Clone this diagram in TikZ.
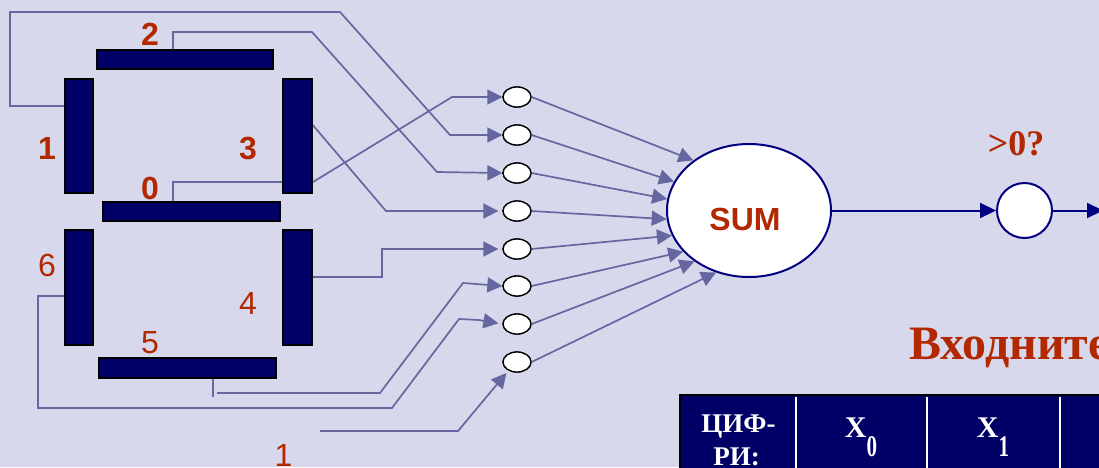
\documentclass[tikz,border=0pt]{standalone}
\usepackage{fontspec}
\setmainfont{Liberation Serif}
\setsansfont{Liberation Sans}
\usepackage{graphicx}
\usetikzlibrary{arrows.meta,shapes.geometric}
\definecolor{bg}{RGB}{216,216,236}
\definecolor{segnavy}{RGB}{0,0,102}
\definecolor{wirec}{RGB}{102,102,160}
\definecolor{lblred}{RGB}{178,40,0}
\definecolor{edgeblue}{RGB}{0,0,128}
\begin{document}
\begin{tikzpicture}[x=1pt,y=-1pt,
  seg/.style={rectangle,draw=black,line width=1.5pt,fill=segnavy,inner sep=0pt},
  inp/.style={ellipse,draw=black,line width=1.3pt,fill=white,minimum width=28pt,minimum height=20pt,inner sep=0pt},
  wire/.style={draw=wirec,line width=1.7pt},
  arr/.style={wire,-{Triangle[length=15pt,width=15pt]}},
  narr/.style={draw=edgeblue,line width=2pt,-{Triangle[length=16pt,width=15pt]}},
  boldlbl/.style={text=lblred,font=\sffamily\bfseries\fontsize{32}{32}\selectfont,inner sep=0pt,anchor=base},
  normlbl/.style={text=lblred,font=\sffamily\fontsize{32}{32}\selectfont,inner sep=0pt,anchor=base},
  celltxt/.style={text=white,font=\bfseries\fontsize{27}{27}\selectfont,inner sep=0pt,anchor=base},
  xtxt/.style={text=white,font=\bfseries\fontsize{30}{30}\selectfont,inner sep=0pt,anchor=base}
]
\fill[bg] (0,0) rectangle (1099,467);
\useasboundingbox (0,0) rectangle (1099,467);

% segment nodes
\path
  (185,59.5)   node[seg,minimum width=176pt,minimum height=19pt] (s2) {}
  (79,136)     node[seg,minimum width=28pt,minimum height=114pt] (s1) {}
  (297.5,136)  node[seg,minimum width=29pt,minimum height=114pt] (s3) {}
  (191.5,211.5) node[seg,minimum width=177pt,minimum height=19pt] (s0) {}
  (79,287.5)   node[seg,minimum width=28pt,minimum height=115pt] (s6) {}
  (297.5,287.5) node[seg,minimum width=29pt,minimum height=115pt] (s4) {}
  (187.5,368)  node[seg,minimum width=177pt,minimum height=20pt] (s5) {};

% input circles
\foreach \i/\y in {1/97,2/135,3/173,4/211,5/249,6/286,7/324,8/362}
  \node[inp] (c\i) at (517,\y) {};

% SUM and threshold
\node[ellipse,draw=edgeblue,line width=2pt,fill=white,minimum width=164pt,minimum height=133pt,inner sep=0pt] (sum) at (749,210.5) {};
\node[circle,draw=edgeblue,line width=2pt,fill=white,minimum size=55pt,inner sep=0pt] (th) at (1024.5,210.5) {};
\coordinate (out) at (1103,210.5);

% wires from segments to inputs
\draw[arr] ([xshift=-18.5pt]s0.north) -- (173,182) -- (313,182) -- (452,97) -- (c1.west);
\draw[arr] ([yshift=30pt]s1.west) -- (10,106) -- (10,12) -- (340,12) -- (450,135) -- (c2.west);
\draw[arr] ([xshift=-12pt]s2.north) -- (173,32) -- (312,32) -- (437,172) -- (c3.west);
\draw[arr,shorten >=4pt] ([yshift=11pt]s3.east) -- (386,211) -- (c4.west);
\draw[arr,shorten >=4pt] ([yshift=10.5pt]s4.east) -- (382,277) -- (382,249) -- (c5.west);
\draw[wire] ([xshift=25.5pt]s5.south) -- ++(0,18);
\coordinate (w5) at (217,393);
\draw[arr] (w5) -- (380,393) -- (463,283) -- (c6.west);
\draw[arr,shorten >=4pt] ([yshift=-8.5pt]s6.west) -- (38,296) -- (38,408) -- (392,408) -- (459,319) -- (479,320) -- (c7.west);
\coordinate (b1) at (320,431);
\draw[arr,shorten >=3pt] (b1) -- (458,431) -- (c8.225);

% redraw segments on top of wires
\path
  (185,59.5)   node[seg,minimum width=176pt,minimum height=19pt] {}
  (79,136)     node[seg,minimum width=28pt,minimum height=114pt] {}
  (297.5,136)  node[seg,minimum width=29pt,minimum height=114pt] {}
  (191.5,211.5) node[seg,minimum width=177pt,minimum height=19pt] {}
  (79,287.5)   node[seg,minimum width=28pt,minimum height=115pt] {}
  (297.5,287.5) node[seg,minimum width=29pt,minimum height=115pt] {}
  (187.5,368)  node[seg,minimum width=177pt,minimum height=20pt] {};
\foreach \y in {97,135,173,211,249,286,324,362}
  \node[inp] at (517,\y) {};

% inputs to SUM
\foreach \i/\a in {1/138.5,2/159,3/172.7,4/186,5/198.5,6/212,7/223,8/242}
  \draw[arr] (c\i.east) -- (sum.\a);

\node[boldlbl] (sumtxt) at (745,230) {SUM};

\draw[narr] (sum.east) -- (th.west);
\draw[narr] (th.east) -- (out);

% segment labels
\node[boldlbl] (l2) at (150,45) {2};
\node[boldlbl] (l1) at (47,159) {1};
\node[boldlbl] (l3) at (248,159) {3};
\node[boldlbl] (l0) at (150,199) {0};
\node[normlbl] (l6) at (47,276) {6};
\node[normlbl] (l4) at (248,314) {4};
\node[normlbl] (l5) at (150,353) {5};
\node[normlbl] (lb) at (283.5,466) {1};

% threshold label and title
\node[text=lblred,font=\bfseries\fontsize{36}{36}\selectfont,inner sep=0pt,anchor=base] (thl) at (1016,155) {>0?};
\node[text=lblred,font=\bfseries\fontsize{48}{48}\selectfont,inner sep=0pt,anchor=base west] (title) at (909,359) {Входните};

% table
\fill[segnavy] (680,395) rectangle (1110,480);
\draw[black,line width=2.5pt] (680,480) -- (680,395) -- (1110,395);
\foreach \xx in {796,927,1060}
  \draw[white,line width=2pt] (\xx,397) -- (\xx,480);
\node[celltxt] (t1) at (738.5,432) {ЦИФ-};
\node[celltxt] (t2) at (736.5,465) {РИ:};
\node[xtxt] (x0) at (861,437) {X\raisebox{-19pt}{\scalebox{0.7}[1]{0}}};
\node[xtxt] (x1) at (993,437) {X\raisebox{-19pt}{\scalebox{0.7}[1]{1}}};
\end{tikzpicture}
\end{document}
